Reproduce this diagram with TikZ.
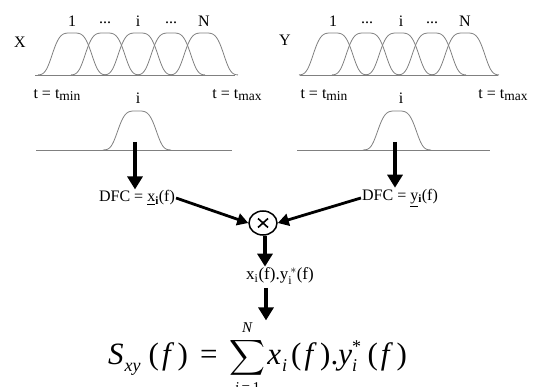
\documentclass[tikz,border=0pt]{standalone}
\usepackage{amsmath}
\usepackage{fontspec}
\setmainfont{Liberation Serif}
\usetikzlibrary{arrows.meta,shapes.geometric}
\newcommand{\tsub}[1]{\raisebox{-1.5pt}{\fontsize{13.5}{15}\selectfont #1}}
\newcommand{\fsub}[1]{\kern1pt\raisebox{-7pt}{\fontsize{18}{20}\selectfont\textit{#1}}}
\newcommand{\fsubsup}[2]{\rlap{\raisebox{-7pt}{\fontsize{18}{20}\selectfont\textit{#1}}}\raisebox{12pt}{\fontsize{18}{20}\selectfont #2}}
\newcommand{\fparf}{\kern4pt(\kern3pt\textit{f}\kern3.5pt)}
\newcommand{\limtxt}[1]{\hbox{\fontsize{15}{15}\selectfont #1}}
\begin{document}
\begin{tikzpicture}[x=1pt,y=-1pt,
  declare function={sg(\u)=exp(-(\u*\u*\u*\u));},
  curve/.style={draw=black!50, line width=0.8pt},
  bigarrow/.style={line width=3.8pt, -{Triangle[width=15pt,length=13pt]}},
  diagarrow/.style={line width=2.8pt, -{Triangle[width=12pt,length=11pt]}},
  lbl/.style={font=\fontsize{16}{18}\selectfont, inner sep=0pt},
  tlbl/.style={font=\fontsize{16}{18}\selectfont, inner sep=0pt},
  dfc/.style={font=\fontsize{16}{18}\selectfont, inner sep=1pt},
]
\useasboundingbox (0,0) rectangle (533,387);
% ---------- left panel ----------
\draw[curve] (35,75) -- (235,75);
\foreach \c in {72,105,138,171,204}
  \draw[curve] plot[domain=\c-34:\c+34, samples=60, smooth] (\x, {75-42*sg((\x-\c)/21.5)});
\node[lbl] (xl) at (20,42) {X};
\node[lbl] (xa1) at (72,21) {1};
\node[lbl] (xa2) at (105,23) {...};
\node[lbl] (xa3) at (138,21) {i};
\node[lbl] (xa4) at (171,23) {...};
\node[lbl] (xa5) at (204,21) {N};
\node[tlbl] (xtmin) at (57,95) {t = t\tsub{min}};
\node[tlbl] (xtmax) at (237,95) {t = t\tsub{max}};
\node[lbl] (xi) at (138,98) {i};
\draw[curve] (36,150) -- (232,150);
\draw[curve] plot[domain=103:171, samples=60, smooth] (\x, {150-39*sg((\x-137)/21)});
% ---------- right panel ----------
\draw[curve] (300,75) -- (498,75);
\foreach \c in {333,366,399,432,465}
  \draw[curve] plot[domain=\c-34:\c+34, samples=60, smooth] (\x, {75-42*sg((\x-\c)/21.5)});
\node[lbl] (yl) at (285,40) {Y};
\node[lbl] (ya1) at (333,21) {1};
\node[lbl] (ya2) at (367,23) {...};
\node[lbl] (ya3) at (401,21) {i};
\node[lbl] (ya4) at (432,23) {...};
\node[lbl] (ya5) at (465,21) {N};
\node[tlbl] (ytmin) at (324,95) {t = t\tsub{min}};
\node[tlbl] (ytmax) at (503,95) {t = t\tsub{max}};
\node[lbl] (yi) at (401,98) {i};
\draw[curve] (297,150) -- (490,150);
\draw[curve] plot[domain=363:431, samples=60, smooth] (\x, {150-39*sg((\x-397)/21)});
% ---------- processing ----------
\coordinate (xs) at (135,142);
\coordinate (ys) at (395,142);
\node[dfc] (dfcx) at (137,198) {DFC = \underline{x}$_{\textbf{i}}$(f)};
\node[dfc] (dfcy) at (400,198) {DFC = \underline{y}$_{\textbf{i}}$(f)};
\draw[bigarrow] (xs) -- (xs |- dfcx.north);
\draw[bigarrow] (ys) -- (ys |- dfcy.north);
\node[ellipse, draw, line width=1.5pt, minimum width=28pt, minimum height=24pt, inner sep=0pt] (mult) at (263,223) {};
\draw[line width=1.6pt] (mult.center) ++(-5,-4.5) -- ++(10,9);
\draw[line width=1.6pt] (mult.center) ++(-5,4.5) -- ++(10,-9);
\draw[diagarrow] (dfcx.east) -- (mult.west);
\draw[diagarrow] (dfcy.west) -- (mult.east);
\node[font=\fontsize{17}{19}\selectfont, inner sep=1pt] (prod) at (280,276) {x$_{\text{i}}$(f).y$_{\text{i}}^{\,*}$(f)};
\coordinate (m1) at (265,236);
\draw[bigarrow] (m1) -- (m1 |- prod.north);
\node[inner sep=0pt, anchor=base west, font=\fontsize{31}{34}\selectfont] (sum) at (108,364)
  {\textit{S}\fsub{xy}\kern4pt\fparf\kern12pt=\kern12pt$\displaystyle\sum_{\limtxt{\textit{i}\,=\,1}}^{\limtxt{\textit{N}}}$\kern2pt\textit{x}\fsub{i}\fparf.\textit{y}\fsubsup{i}{*}\kern2.5pt\fparf};
\coordinate (m2) at (266,288);
\draw[bigarrow] (m2) -- (m2 |- sum.north);
\end{tikzpicture}
\end{document}
